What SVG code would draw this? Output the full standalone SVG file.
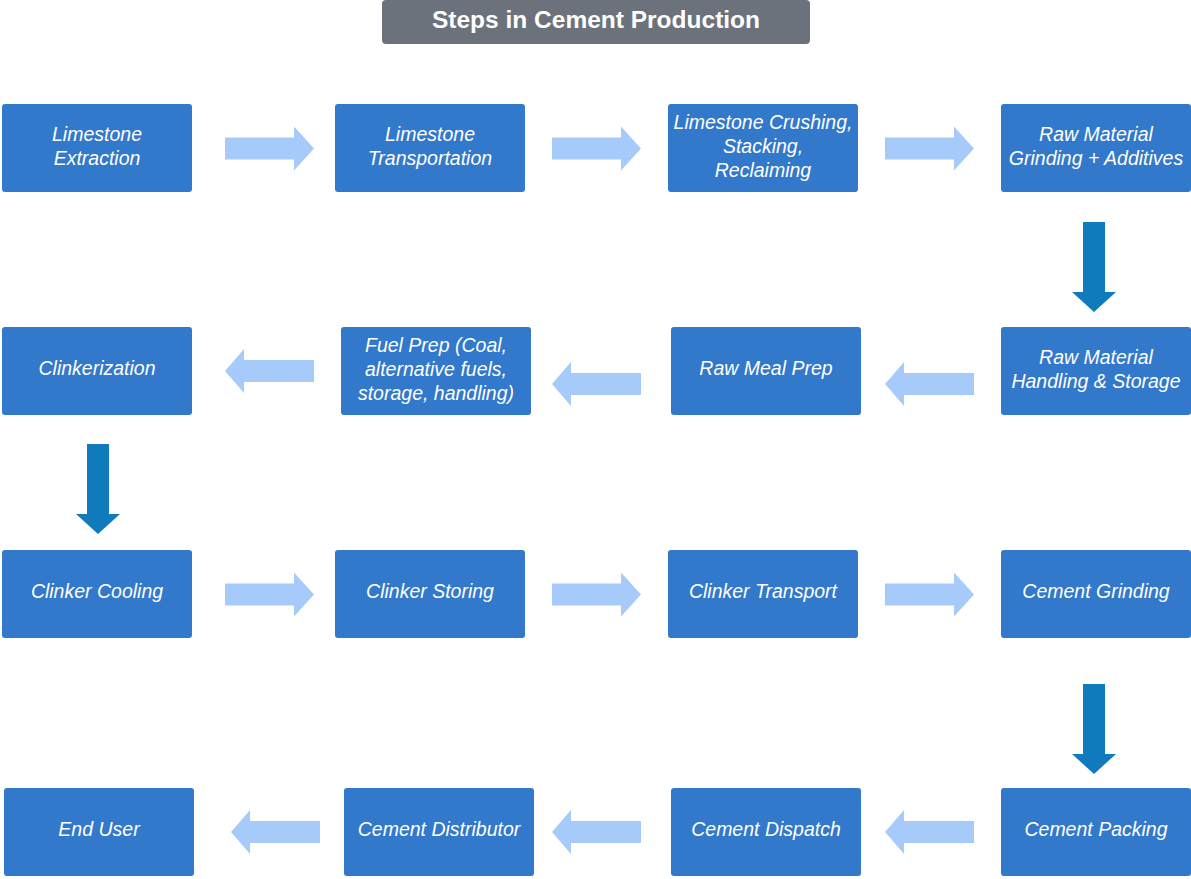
<svg xmlns="http://www.w3.org/2000/svg" width="1191" height="879" viewBox="0 0 1191 879">
<style>
.box{fill:#3278cb}
.t{font-family:"Liberation Sans",Arial,sans-serif;font-size:19.5px;font-style:italic;fill:#fff;text-anchor:middle}
.la{fill:#a6cbfb}
.da{fill:#0f7bbd}
.title{font-family:"Liberation Sans",Arial,sans-serif;font-size:24.5px;font-weight:bold;fill:#fff;text-anchor:middle}
</style>
<defs>
<path id="ar" d="M0,-11 H69 V-22 L89,0 L69,22 V11 H0 Z"/>
<path id="al" d="M0,0 L19,-22 V-11 H89 V11 H19 V22 Z"/>
<path id="ad" d="M-11,0 H11 V70 H22 L0,90 L-22,70 H-11 Z"/>
</defs>
<g id="title">
<rect x="382" y="0" width="428" height="44" rx="4" fill="#6c727b"/>
<text class="title" x="596" y="28">Steps in Cement Production</text>
</g>
<g id="n1"><rect class="box" x="2" y="104" width="190" height="88" rx="3"/><text class="t" x="97" y="141">Limestone</text><text class="t" x="97" y="165">Extraction</text></g>
<g id="n2"><rect class="box" x="335" y="104" width="190" height="88" rx="3"/><text class="t" x="430" y="141">Limestone</text><text class="t" x="430" y="165">Transportation</text></g>
<g id="n3"><rect class="box" x="668" y="104" width="190" height="88" rx="3"/><text class="t" x="763" y="129">Limestone Crushing,</text><text class="t" x="763" y="153">Stacking,</text><text class="t" x="763" y="177">Reclaiming</text></g>
<g id="n4"><rect class="box" x="1001" y="104" width="190" height="88" rx="3"/><text class="t" x="1096" y="141">Raw Material</text><text class="t" x="1096" y="165">Grinding + Additives</text></g>
<g id="n5"><rect class="box" x="1001" y="327" width="190" height="88" rx="3"/><text class="t" x="1096" y="364">Raw Material</text><text class="t" x="1096" y="388">Handling &amp; Storage</text></g>
<g id="n6"><rect class="box" x="671" y="327" width="190" height="88" rx="3"/><text class="t" x="766" y="375">Raw Meal Prep</text></g>
<g id="n7"><rect class="box" x="341" y="327" width="190" height="88" rx="3"/><text class="t" x="436" y="352">Fuel Prep (Coal,</text><text class="t" x="436" y="376">alternative fuels,</text><text class="t" x="436" y="400">storage, handling)</text></g>
<g id="n8"><rect class="box" x="2" y="327" width="190" height="88" rx="3"/><text class="t" x="97" y="375">Clinkerization</text></g>
<g id="n9"><rect class="box" x="2" y="550" width="190" height="88" rx="3"/><text class="t" x="97" y="598">Clinker Cooling</text></g>
<g id="n10"><rect class="box" x="335" y="550" width="190" height="88" rx="3"/><text class="t" x="430" y="598">Clinker Storing</text></g>
<g id="n11"><rect class="box" x="668" y="550" width="190" height="88" rx="3"/><text class="t" x="763" y="598">Clinker Transport</text></g>
<g id="n12"><rect class="box" x="1001" y="550" width="190" height="88" rx="3"/><text class="t" x="1096" y="598">Cement Grinding</text></g>
<g id="n13"><rect class="box" x="1001" y="788" width="190" height="88" rx="3"/><text class="t" x="1096" y="836">Cement Packing</text></g>
<g id="n14"><rect class="box" x="671" y="788" width="190" height="88" rx="3"/><text class="t" x="766" y="836">Cement Dispatch</text></g>
<g id="n15"><rect class="box" x="344" y="788" width="190" height="88" rx="3"/><text class="t" x="439" y="836">Cement Distributor</text></g>
<g id="n16"><rect class="box" x="4" y="788" width="190" height="88" rx="3"/><text class="t" x="99" y="836">End User</text></g>
<g id="connectors">
<use href="#ar" class="la" x="225" y="148.5"/>
<use href="#ar" class="la" x="552" y="148.5"/>
<use href="#ar" class="la" x="885" y="148.5"/>
<use href="#ad" class="da" x="1094" y="222"/>
<use href="#al" class="la" x="885" y="384"/>
<use href="#al" class="la" x="552" y="384"/>
<use href="#al" class="la" x="225" y="371"/>
<use href="#ad" class="da" x="98" y="444"/>
<use href="#ar" class="la" x="225" y="594.5"/>
<use href="#ar" class="la" x="552" y="594.5"/>
<use href="#ar" class="la" x="885" y="594.5"/>
<use href="#ad" class="da" x="1094" y="684"/>
<use href="#al" class="la" x="885" y="832"/>
<use href="#al" class="la" x="552" y="832"/>
<use href="#al" class="la" x="231" y="832"/>
</g>
</svg>
